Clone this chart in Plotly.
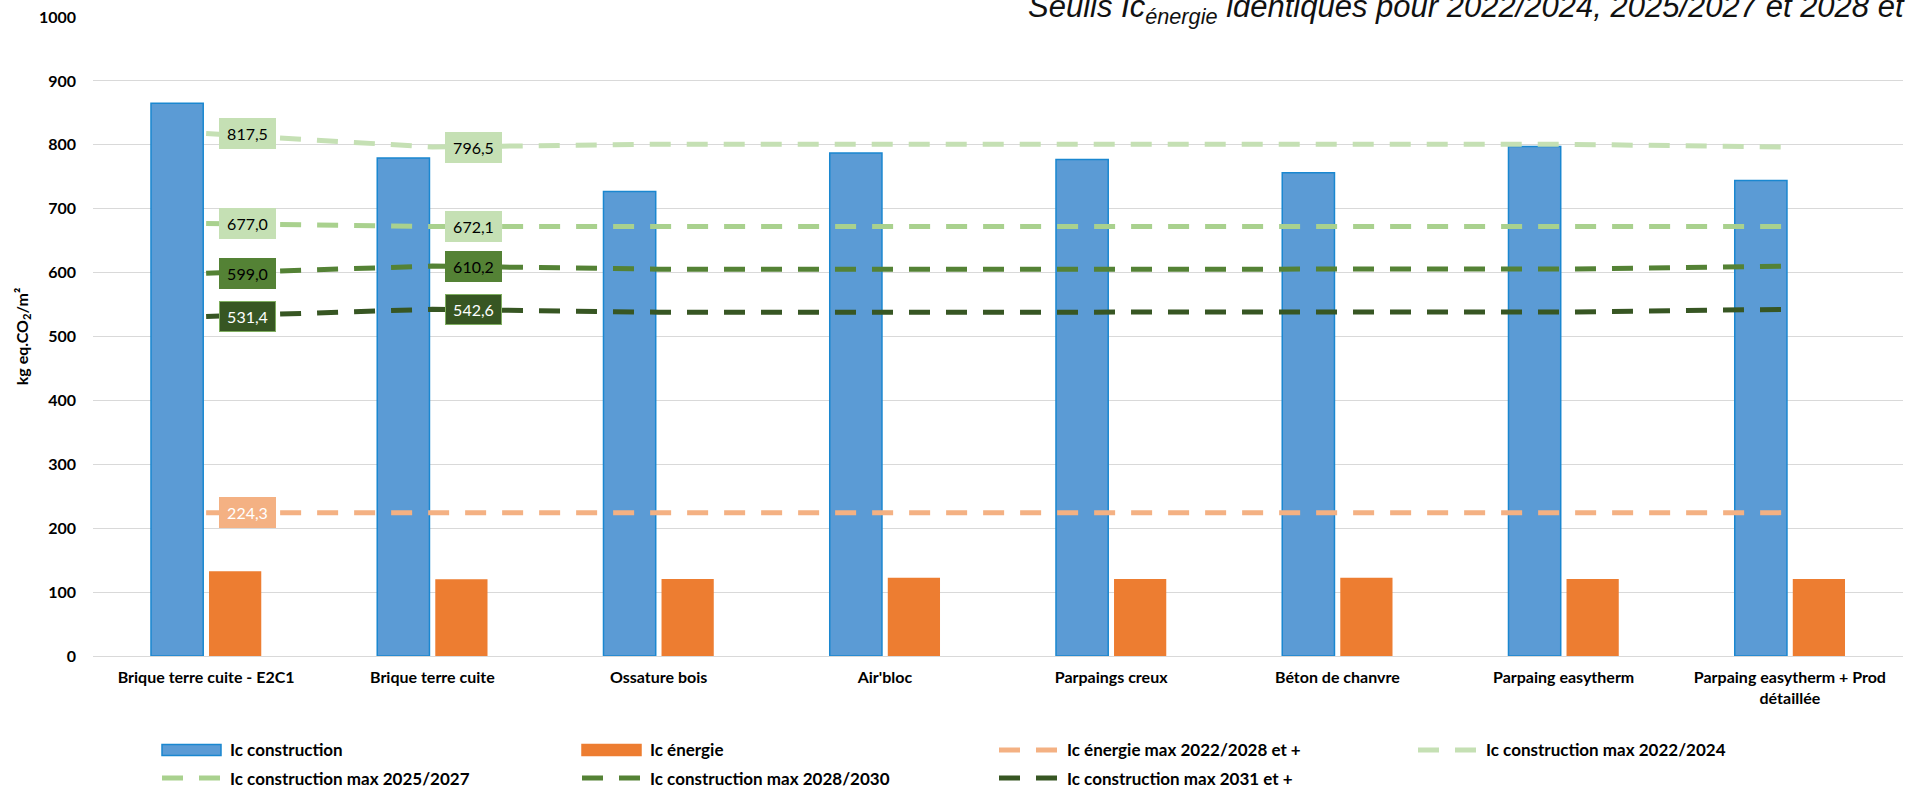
import plotly.graph_objects as go

# ---- data -------------------------------------------------------------
categories = [
    "Brique terre cuite - E2C1",
    "Brique terre cuite",
    "Ossature bois",
    "Air'bloc",
    "Parpaings creux",
    "Béton de chanvre",
    "Parpaing easytherm",
    "Parpaing easytherm + Prod<br>détaillée",
]
ic_construction = [865.2, 779.2, 727.0, 787.0, 777.1, 756.3, 797.4, 744.3]
ic_energie = [132.5, 120.0, 120.6, 122.5, 120.6, 122.5, 120.6, 120.6]

ic_energie_max = [224.3, 224.3, 224.3, 224.3, 224.3, 224.3, 224.3, 224.3]
ic_constr_max_2022_2024 = [817.5, 796.5, 801.0, 801.0, 801.0, 801.0, 800.8, 796.5]
ic_constr_max_2025_2027 = [677.0, 672.1, 672.1, 672.1, 672.1, 672.1, 672.1, 672.1]
ic_constr_max_2028_2030 = [599.0, 610.2, 605.3, 605.3, 605.3, 605.3, 605.5, 610.2]
ic_constr_max_2031 = [531.4, 542.6, 538.0, 538.0, 538.2, 538.2, 538.3, 542.6]

y_ticks = [0, 100, 200, 300, 400, 500, 600, 700, 800, 900, 1000]

# ---- geometry helpers (plot area in pixels) ---------------------------
W, H = 1910, 789
L, R, T, B = 93, 7, 17, 133
PW, PH = W - L - R, H - T - B


def px_x(px):
    return (px - L) / PW


def px_y(py):
    return (H - B - py) / PH


FONT = "Lato, 'Open Sans', sans-serif"
DASH = "21px,16px"

fig = go.Figure()

fig.add_bar(
    x=categories, y=ic_construction, name="Ic construction",
    marker=dict(color="#5B9BD5", line=dict(color="#1A87D0", width=1.5)),
)
fig.add_bar(
    x=categories, y=ic_energie, name="Ic énergie",
    marker=dict(color="#ED7D31", line=dict(width=0)),
)

# threshold lines: values, name, line colour, label box fill, label text colour,
# label border colour, indices carrying a value label
thresholds = [
    (ic_energie_max, "Ic énergie max 2022/2028 et +", "#F4B183", "#F4B183", "#FFFFFF", "#F4B183", [0]),
    (ic_constr_max_2022_2024, "Ic construction max 2022/2024", "#C5E0B4", "#C5E0B4", "#000000", "#C5E0B4", [0, 1]),
    (ic_constr_max_2025_2027, "Ic construction max 2025/2027", "#A9D18E", "#C5E0B4", "#000000", "#C5E0B4", [0, 1]),
    (ic_constr_max_2028_2030, "Ic construction max 2028/2030", "#548235", "#548235", "#000000", "#548235", [0, 1]),
    (ic_constr_max_2031, "Ic construction max 2031 et +", "#375623", "#375623", "#FFFFFF", "#7FAE5F", [0, 1]),
]

annotations = []
for vals, name, color, box, txt, border, labelled in thresholds:
    fig.add_scatter(
        x=categories, y=vals, name=name, mode="lines",
        line=dict(color=color, width=5, dash=DASH),
    )
    for i in labelled:
        annotations.append(dict(
            x=categories[i], y=vals[i], xref="x", yref="y",
            text=f"{vals[i]:.1f}".replace(".", ","),
            showarrow=False, xanchor="left", yanchor="middle", xshift=13,
            bgcolor=box, bordercolor=border, borderwidth=1, borderpad=3,
            width=49, height=23,
            font=dict(family=FONT, size=16, color=txt),
        ))

# title line across the top
annotations.append(dict(
    x=px_x(1026), y=px_y(-13), xref="paper", yref="paper",
    xanchor="left", yanchor="top", showarrow=False,
    text="Seuils Ic<sub>énergie</sub> identiques pour 2022/2024, 2025/2027 et 2028 et +",
    font=dict(family="Liberation Sans, Arial, sans-serif", size=31, color="#111111", style="italic"),
))

# legend drawn as swatches + labels in four columns
legend_pos = [(162, 750), (582, 750), (999, 750), (1418, 750),
              (162, 778), (582, 778), (999, 778)]
shapes = []
legend_entries = [("bar", "#5B9BD5", "#1A87D0", "Ic construction"),
                  ("bar", "#ED7D31", "#ED7D31", "Ic énergie")]
legend_entries += [("line", t[2], t[2], t[1]) for t in thresholds]
for (kind, fill, edge, label), (lx, ly) in zip(legend_entries, legend_pos):
    if kind == "bar":
        shapes.append(dict(
            type="rect", xref="paper", yref="paper",
            x0=px_x(lx), x1=px_x(lx + 59), y0=px_y(ly - 5.5), y1=px_y(ly + 5.5),
            fillcolor=fill, line=dict(color=edge, width=1.5),
        ))
    else:
        shapes.append(dict(
            type="line", xref="paper", yref="paper",
            x0=px_x(lx), x1=px_x(lx + 59), y0=px_y(ly), y1=px_y(ly),
            line=dict(color=fill, width=5, dash=DASH),
        ))
    annotations.append(dict(
        x=px_x(lx + 66), y=px_y(ly), xref="paper", yref="paper",
        xanchor="left", yanchor="middle", showarrow=False, text=label,
        font=dict(family=FONT, size=17, color="#000000", weight="bold"),
    ))

fig.update_layout(
    width=W, height=H,
    margin=dict(l=L, r=R, t=T, b=B, pad=0),
    paper_bgcolor="white", plot_bgcolor="white",
    barmode="group", bargap=0.487, bargroupgap=0.1,
    showlegend=False,
    annotations=annotations, shapes=shapes,
    font=dict(family=FONT, color="#000000"),
)
fig.update_xaxes(
    showgrid=False, showline=False, zeroline=False, ticks="",
    tickfont=dict(family=FONT, size=16, color="#000000", weight="bold"),
    ticklabelstandoff=10,
)
fig.update_yaxes(
    range=[0, 1000], tickvals=y_ticks, showgrid=True, gridcolor="#D9D9D9", gridwidth=1.3,
    zeroline=True, zerolinecolor="#D9D9D9", zerolinewidth=1.3, showline=False, ticks="",
    tickfont=dict(family=FONT, size=16, color="#000000", weight="bold"),
    ticklabelstandoff=16,
    title=dict(text="kg eq.CO<sub>2</sub>/m²", standoff=6,
               font=dict(family=FONT, size=16, color="#000000", weight="bold")),
)

fig.write_html("out.html")
